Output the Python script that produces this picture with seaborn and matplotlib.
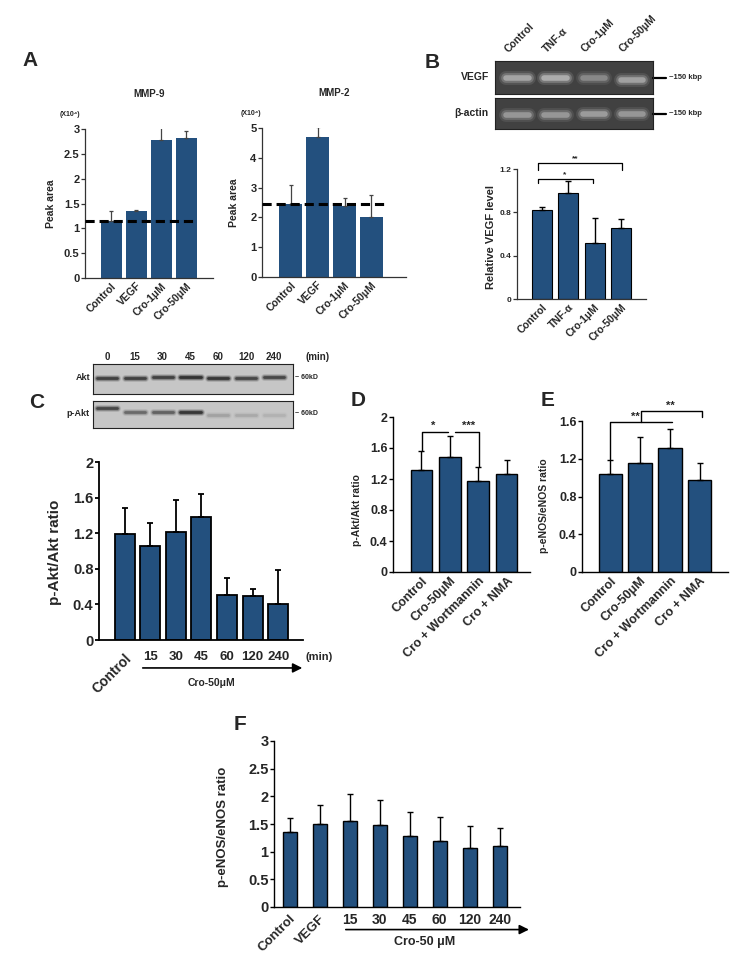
import numpy as np
import matplotlib
matplotlib.use('Agg')
import matplotlib.pyplot as plt
import matplotlib.transforms as mtrans
import seaborn as sns

sns.set_style('ticks')
plt.rcParams['font.family'] = ['Liberation Sans', 'DejaVu Sans']
plt.rcParams['font.weight'] = 'bold'
plt.rcParams['axes.labelweight'] = 'bold'

BLUE = '#23507e'
W, H = 756, 961

# ---- data ----
mmp_groups = ['Control', 'VEGF', 'Cro-1μM', 'Cro-50μM']
mmp9_mean = [1.14, 1.34, 2.77, 2.82]
mmp9_top = [1.34, 1.37, 3.07, 2.95]
mmp9_base = 1.14
mmp2_mean = [2.45, 4.70, 2.39, 2.01]
mmp2_top = [3.10, 5.05, 2.65, 2.74]
mmp2_base = 2.45

vegf_groups = ['Control', 'TNF-α', 'Cro-1μM', 'Cro-50μM']
vegf_mean = [0.82, 0.98, 0.515, 0.655]
vegf_top = [0.845, 1.09, 0.745, 0.74]
vegf_band = [0.85, 0.95, 0.55, 0.8]
vegf_band_y = [0.49, 0.49, 0.47, 0.42]
actin_band = [0.7, 0.7, 0.75, 0.7]
actin_band_y = [0.45, 0.45, 0.47, 0.47]

akt_times = ['0', '15', '30', '45', '60', '120', '240']
akt_band = [0.75, 0.75, 0.75, 0.9, 0.85, 0.7, 0.7]
akt_band_y = [0.53, 0.55, 0.57, 0.57, 0.55, 0.55, 0.57]
pakt_band = [0.7, 0.45, 0.5, 0.85, 0.15, 0.12, 0.08]
pakt_band_y = [0.74, 0.6, 0.6, 0.6, 0.5, 0.5, 0.5]
c_groups = ['Control', '15', '30', '45', '60', '120', '240']
c_mean = [1.19, 1.06, 1.21, 1.38, 0.51, 0.49, 0.40]
c_top = [1.48, 1.32, 1.57, 1.64, 0.70, 0.57, 0.79]

de_groups = ['Control', 'Cro-50μM', 'Cro + Wortmannin', 'Cro + NMA']
d_mean = [1.32, 1.49, 1.17, 1.26]
d_top = [1.56, 1.76, 1.35, 1.44]
e_mean = [1.04, 1.16, 1.31, 0.98]
e_top = [1.19, 1.43, 1.51, 1.16]

f_groups = ['Control', 'VEGF', '15', '30', '45', '60', '120', '240']
f_mean = [1.35, 1.50, 1.56, 1.48, 1.29, 1.19, 1.07, 1.11]
f_top = [1.60, 1.84, 2.05, 1.93, 1.71, 1.63, 1.46, 1.42]

fig = plt.figure(figsize=(W / 100, H / 100), dpi=100)


def px_axes(l, t, r, b):
    return fig.add_axes([l / W, 1 - b / H, (r - l) / W, (b - t) / H])


def ftext(x, y, s, **kw):
    fig.text(x / W, 1 - y / H, s, **kw)


def bars(ax, cats, mean, top, width, edge, ecol='black', elw=1.0, cap=2):
    sns.barplot(x=cats, y=mean, order=cats, color=BLUE, saturation=1, width=width,
                edgecolor='black' if edge else 'none', linewidth=edge or 0,
                errorbar=None, ax=ax)
    m = np.array(mean)
    ax.errorbar(np.arange(len(cats)), m, yerr=[np.zeros(len(m)), np.array(top) - m],
                fmt='none', ecolor=ecol, elinewidth=elw, capsize=cap, capthick=elw, zorder=1)


def style(ax, yticks, fs, xlim, lw=1.0, color='black'):
    sns.despine(ax=ax)
    ax.set_xlim(*xlim)
    ax.set_ylim(yticks[0], yticks[-1])
    ax.set_yticks(yticks)
    ax.set_yticklabels([f'{v:g}' for v in yticks], fontsize=fs, fontweight='bold')
    for s in ['left', 'bottom']:
        ax.spines[s].set_linewidth(lw)
        ax.spines[s].set_color(color)
    ax.tick_params(axis='y', length=3, width=lw, pad=1, color=color)
    ax.tick_params(axis='x', length=0)
    ax.set_xlabel('')
    ax.set_ylabel('')


def rot_labels(ax, labels, fs, pad, nrot=None):
    ax.set_xticks(np.arange(len(labels)))
    ax.set_xticklabels(labels, fontsize=fs, fontweight='bold')
    ax.tick_params(axis='x', pad=pad)
    for k, lbl in enumerate(ax.get_xticklabels()):
        if nrot is None or k < nrot:
            lbl.set_rotation(45)
            lbl.set_ha('right')
            lbl.set_rotation_mode('anchor')


def bracket(ax, x1, x2, y, leg1, leg2, lw=1.0):
    ax.plot([x1, x1, x2, x2], [leg1, y, y, leg2], color='black', lw=lw, clip_on=False)


def gel(ax, bands, band_y, bg, band_col, xlim, half, widths, alphas):
    ax.set_facecolor(bg)
    ax.set_xlim(*xlim)
    ax.set_ylim(0, 1)
    ax.set_xticks([])
    ax.set_yticks([])
    for sp in ax.spines.values():
        sp.set_color('#222222')
        sp.set_linewidth(0.8)
    for i, (a, yy) in enumerate(zip(bands, band_y)):
        for lw, al in zip(widths, alphas):
            ax.plot([i - half, i + half], [yy, yy], color=band_col, alpha=al * a,
                    lw=lw, solid_capstyle='round')


# ---------------- A ----------------
ftext(30, 60, 'A', fontsize=15, fontweight='bold', ha='center', va='center')
for (l, t, r, b), mean, top, base, ymax, title, xl, dash_end, ylx in [
        ((85, 129, 213, 278), mmp9_mean, mmp9_top, mmp9_base, 3, 'MMP-9', (-1.05, 4.07), 0.875, -0.23),
        ((262, 128, 406, 277), mmp2_mean, mmp2_top, mmp2_base, 5, 'MMP-2', (-1.06, 4.28), 0.855, -0.16)]:
    ax = px_axes(l, t, r, b)
    bars(ax, mmp_groups, mean, top, 0.84, 0, ecol='#444444', elw=0.9, cap=1.5)
    step = 0.5 if ymax == 3 else 1
    style(ax, np.arange(0, ymax + step / 2, step), 8, xl, lw=0.9, color='#333333')
    ax.axhline(base, xmin=0, xmax=dash_end, color='black', ls=(0, (3, 1.6)), lw=2.2, zorder=5)
    rot_labels(ax, mmp_groups, 7.5, 2)
    ax.set_ylabel('Peak area', fontsize=7.5, fontweight='bold')
    ax.yaxis.set_label_coords(ylx, 0.5)
    ax.set_title(title, fontsize=7, fontweight='bold', pad=23)
    ax.text(-0.08 if ymax == 5 else -0.12, 1.1, '(X10⁴)', transform=ax.transAxes,
            fontsize=5, fontweight='bold', ha='center', va='center')

# ---------------- B ----------------
ftext(432, 62, 'B', fontsize=15, fontweight='bold', ha='center', va='center')
ax_v = px_axes(495, 61, 653, 94)
gel(ax_v, vegf_band, vegf_band_y, '#414141', '#d4d4d4', (-0.6, 3.55), 0.3,
    (10, 7, 4), (0.15, 0.3, 0.6))
ax_a = px_axes(495, 98, 653, 129)
gel(ax_a, actin_band, actin_band_y, '#414141', '#d4d4d4', (-0.6, 3.55), 0.3,
    (10, 7, 4), (0.15, 0.3, 0.6))
tr = mtrans.blended_transform_factory(ax_v.transData, ax_v.transAxes)
for i, g in enumerate(vegf_groups):
    ax_v.text(i - 0.2, 1.2, g, transform=tr, rotation=45, rotation_mode='anchor',
              ha='left', va='bottom', fontsize=7.5, fontweight='bold')
for axg, name in [(ax_v, 'VEGF'), (ax_a, 'β-actin')]:
    axg.text(-0.04, 0.5, name, transform=axg.transAxes, ha='right', va='center',
             fontsize=7.5, fontweight='bold')
    axg.plot([1.0, 1.08], [0.5, 0.5], transform=axg.transAxes, color='black', lw=1.6, clip_on=False)
    axg.text(1.1, 0.5, '~150 kbp', transform=axg.transAxes, ha='left', va='center',
             fontsize=5.5, fontweight='bold')

ax = px_axes(517, 169, 646, 299)
bars(ax, vegf_groups, vegf_mean, vegf_top, 0.76, 0.8)
style(ax, [0, 0.4, 0.8, 1.2], 6, (-0.95, 3.95), lw=0.9, color='#333333')
rot_labels(ax, vegf_groups, 7.5, 2)
ax.set_ylabel('Relative VEGF level', fontsize=8, fontweight='bold')
ax.yaxis.set_label_coords(-0.165, 0.48)
bracket(ax, -0.15, 3.03, 1.26, 1.19, 1.19, lw=0.9)
bracket(ax, -0.15, 1.93, 1.11, 1.07, 1.07, lw=0.9)
ax.text(1.25, 1.265, '**', ha='center', va='bottom', fontsize=6)
ax.text(0.87, 1.115, '*', ha='center', va='bottom', fontsize=6)

# ---------------- C ----------------
ftext(37, 402, 'C', fontsize=15, fontweight='bold', ha='center', va='center')
ax_k = px_axes(93, 364, 293, 394)
gel(ax_k, akt_band, akt_band_y, '#c6c6c6', '#222222', (-0.5, 6.68), 0.36,
    (5, 3.5, 2), (0.2, 0.4, 0.9))
ax_p = px_axes(93, 401, 293, 428)
gel(ax_p, pakt_band, pakt_band_y, '#c6c6c6', '#222222', (-0.5, 6.68), 0.36,
    (5, 3.5, 2), (0.2, 0.4, 0.9))
tr = mtrans.blended_transform_factory(ax_k.transData, ax_k.transAxes)
for i, tm in enumerate(akt_times):
    ax_k.text(i, 1.23, tm, transform=tr, ha='center', va='center', fontsize=7, fontweight='bold')
ax_k.text(1.065, 1.23, '(min)', transform=ax_k.transAxes, ha='left', va='center',
          fontsize=7, fontweight='bold')
for axg, name in [(ax_k, 'Akt'), (ax_p, 'p-Akt')]:
    axg.text(-0.015, 0.55, name, transform=axg.transAxes, ha='right', va='center',
             fontsize=6.5, fontweight='bold')
    axg.text(1.01, 0.55, '~ 60kD', transform=axg.transAxes, ha='left', va='center',
             fontsize=5, fontweight='bold')

ax = px_axes(99, 462, 303, 640)
bars(ax, c_groups, c_mean, c_top, 0.78, 1.3, elw=1.3, cap=2.5)
style(ax, [0, 0.4, 0.8, 1.2, 1.6, 2.0], 10.5, (-1.0, 6.97), lw=1.3)
rot_labels(ax, c_groups, 9.5, 8, nrot=1)
ax.get_xticklabels()[0].set_fontsize(10)
ax.set_ylabel('p-Akt/Akt ratio', fontsize=11, fontweight='bold')
ax.yaxis.set_label_coords(-0.18, 0.49)
ax.text(7.6, -0.095, '(min)', transform=ax.get_xaxis_transform(), ha='center', va='center',
        fontsize=8, fontweight='bold')
ax.annotate('', xy=(7.05, -0.157), xytext=(0.6, -0.157), xycoords=ax.get_xaxis_transform(),
            arrowprops=dict(arrowstyle='-|>', color='black', lw=1.2, mutation_scale=14))
ax.text(3.38, -0.24, 'Cro-50μM', transform=ax.get_xaxis_transform(), ha='center', va='center',
        fontsize=7.5, fontweight='bold')

# ---------------- D ----------------
ftext(358, 400, 'D', fontsize=15, fontweight='bold', ha='center', va='center')
ax = px_axes(393, 417, 530, 572)
bars(ax, de_groups, d_mean, d_top, 0.76, 1.0)
style(ax, [0, 0.4, 0.8, 1.2, 1.6, 2.0], 9, (-1.0, 3.82), lw=1.0)
rot_labels(ax, de_groups, 9, 2)
ax.set_ylabel('p-Akt/Akt ratio', fontsize=7.5, fontweight='bold')
ax.yaxis.set_label_coords(-0.226, 0.40)
bracket(ax, 0.01, 0.94, 1.81, 1.56, 1.81)
bracket(ax, 1.18, 2.04, 1.81, 1.81, 1.35)
ax.text(0.42, 1.815, '*', ha='center', va='bottom', fontsize=8)
ax.text(1.65, 1.815, '***', ha='center', va='bottom', fontsize=8)

# ---------------- E ----------------
ftext(548, 400, 'E', fontsize=15, fontweight='bold', ha='center', va='center')
ax = px_axes(582, 421, 728, 572)
bars(ax, de_groups, e_mean, e_top, 0.79, 1.0)
style(ax, [0, 0.4, 0.8, 1.2, 1.6], 9, (-0.96, 3.96), lw=1.0)
rot_labels(ax, de_groups, 9, 2)
ax.set_ylabel('p-eNOS/eNOS ratio', fontsize=7.5, fontweight='bold')
ax.yaxis.set_label_coords(-0.226, 0.44)
bracket(ax, 0.0, 2.06, 1.59, 1.19, 1.59)
bracket(ax, 1.02, 3.07, 1.707, 1.59, 1.64)
ax.text(0.83, 1.595, '**', ha='center', va='bottom', fontsize=8)
ax.text(2.03, 1.712, '**', ha='center', va='bottom', fontsize=8)

# ---------------- F ----------------
ftext(240, 725, 'F', fontsize=15, fontweight='bold', ha='center', va='center')
ax = px_axes(274, 741, 520, 907)
bars(ax, f_groups, f_mean, f_top, 0.47, 1.0)
style(ax, [0, 0.5, 1, 1.5, 2, 2.5, 3], 10.5, (-0.52, 7.68), lw=1.0)
rot_labels(ax, f_groups, 10, 4, nrot=2)
for lbl in ax.get_xticklabels()[:2]:
    lbl.set_fontsize(9.5)
ax.set_ylabel('p-eNOS/eNOS ratio', fontsize=9.5, fontweight='bold')
ax.yaxis.set_label_coords(-0.183, 0.48)
ax.annotate('', xy=(8.07, -0.136), xytext=(1.78, -0.136), xycoords=ax.get_xaxis_transform(),
            arrowprops=dict(arrowstyle='-|>', color='black', lw=1.2, mutation_scale=14),
            annotation_clip=False)
ax.text(4.51, -0.21, 'Cro-50 μM', transform=ax.get_xaxis_transform(), ha='center', va='center',
        fontsize=9, fontweight='bold')

fig.savefig('out.png', dpi=100)
